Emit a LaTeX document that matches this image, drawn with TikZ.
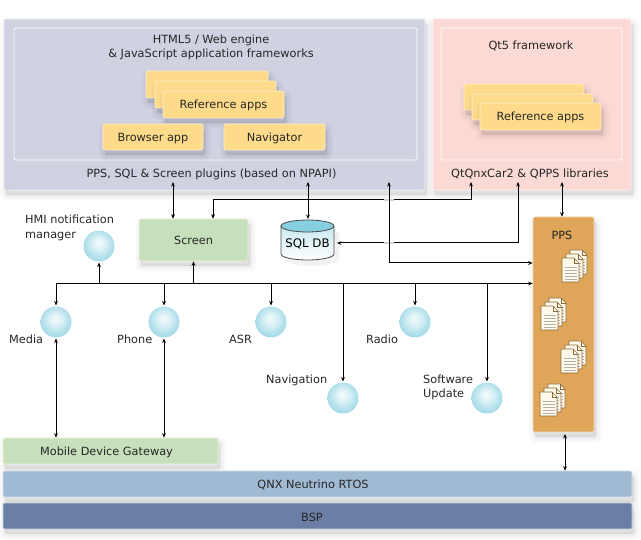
\documentclass[tikz,border=0pt]{standalone}
\usepackage{fontspec}
\setmainfont{DejaVu Sans}
\usetikzlibrary{arrows.meta,shadows,calc}

\definecolor{panelblue}{HTML}{D0D2E2}
\definecolor{panelpink}{HTML}{FBD9D4}
\definecolor{appyellow}{HTML}{FEDB8A}
\definecolor{boxgreen}{HTML}{C7E0BB}
\definecolor{rtosblue}{HTML}{A1BAD4}
\definecolor{bspblue}{HTML}{6B7FA6}
\definecolor{ppsbrown}{HTML}{DFA558}
\definecolor{dbtop}{HTML}{86CFE0}
\definecolor{pageline}{HTML}{8A6A3A}

\newcommand{\lblfont}{\fontsize{11.3}{14.5}\selectfont}

\pgfdeclareradialshading{bubble}{\pgfpoint{-1bp}{6bp}}{%
  color(0bp)=(white!92!dbtop); color(10bp)=(white!70!dbtop); color(22bp)=(white!35!dbtop); color(32bp)=(white!12!dbtop); color(50bp)=(white!12!dbtop)}

\tikzset{
  sz/.style 2 args={minimum width=#1,minimum height=#2,inner sep=0pt},
  softshadow/.style={
    general shadow={shadow xshift=2pt,shadow yshift=-5pt,fill=black,draw=black,line width=13pt,opacity=.012},
    general shadow={shadow xshift=2pt,shadow yshift=-5pt,fill=black,draw=black,line width=10pt,opacity=.014},
    general shadow={shadow xshift=2pt,shadow yshift=-5pt,fill=black,draw=black,line width=7pt,opacity=.016},
    general shadow={shadow xshift=2pt,shadow yshift=-5pt,fill=black,draw=black,line width=4pt,opacity=.018},
    general shadow={shadow xshift=2pt,shadow yshift=-5pt,fill=black,draw=black,line width=1pt,opacity=.02}},
  box/.style={rounded corners=2pt,draw=white!60!#1,line width=.6pt,fill=#1,softshadow},
  boxtext/.style={font=\lblfont,text=black!85,text height=8.5pt,text depth=0pt},
  inner/.style={rounded corners=2pt,draw=white,line width=.8pt},
  lbl/.style={font=\lblfont,text=black!85,inner sep=0pt,align=left},
  bubblenode/.style={circle,minimum size=31pt,inner sep=0pt,outer sep=1pt,shading=bubble,draw=none},
  link/.style={line width=1pt,-{Stealth[length=4.5pt,width=3.8pt]}},
  dlink/.style={line width=1pt,{Stealth[length=4.5pt,width=3.8pt]}-{Stealth[length=4.5pt,width=3.8pt]}},
  gapmark/.style={line width=1.1pt,draw=black!18},
  docpage/.style={fill=white!82!appyellow,draw=pageline,line width=.7pt},
  docs/.pic={
    \foreach \dx/\dy in {8/-8,4/-4,0/0}{
      \begin{scope}[shift={(\dx,\dy)}]
        \draw[docpage] (0,0) -- (12,0) -- (17,5) -- (17,24) -- (0,24) -- cycle;
        \draw[pageline,line width=.5pt] (12,0) -- (12,5) -- (17,5);
        \foreach \ly in {9,12,15,18,21}
          \draw[black!30,line width=.7pt] (2.5,\ly) -- (14.5,\ly);
      \end{scope}
    }
  }
}

\begin{document}
\begin{tikzpicture}[x=1pt,y=-1pt]
  \useasboundingbox (0,0) rectangle (641,540);

  % Upper panels
  \node[box=panelblue,sz={421pt}{171pt}] (webPanel) at (214.5,104.5) {};
  \node[inner,sz={403pt}{132pt}] (webInner) at (215.5,94) {};
  \node[box=panelpink,sz={198pt}{171pt}] (qtPanel) at (532,104.5) {};
  \node[inner,sz={181pt}{132pt}] (qtInner) at (531.5,94) {};

  \node[lbl,align=center] (webTitle) at (211,47.5) {HTML5 / Web engine\\\& JavaScript application frameworks};
  \node[lbl] (webPlugins) at (211.5,174) {PPS, SQL \& Screen plugins (based on NPAPI)};
  \node[lbl] (qtTitle) at (531,45.5) {Qt5 framework};
  \node[lbl] (qtLibs) at (530,174) {QtQnxCar2 \& QPPS libraries};

  % Application boxes
  \node[box=appyellow,sz={122pt}{27pt}] (webBack) at (207,84.5) {};
  \node[box=appyellow,sz={121pt}{27pt}] (webMid) at (215.5,94.5) {};
  \node[box=appyellow,sz={121pt}{27pt},boxtext] (webApps) at (223.5,104.5) {Reference apps};
  \node[box=appyellow,sz={100pt}{26pt},boxtext] (browser) at (153,137) {Browser app};
  \node[box=appyellow,sz={101pt}{26pt},boxtext] (navigator) at (274.5,137) {Navigator};
  \node[box=appyellow,sz={120pt}{26pt}] (qtBack) at (524,97) {};
  \node[box=appyellow,sz={121pt}{26pt}] (qtMid) at (532.5,107) {};
  \node[box=appyellow,sz={121pt}{27pt},boxtext] (qtApps) at (540.5,116.5) {Reference apps};

  % Screen and database
  \node[box=boxgreen,sz={109pt}{42pt},boxtext] (screen) at (193.5,240) {Screen};
  \fill[black,opacity=.05] (285,232) -- (285,258) arc[start angle=180,end angle=0,x radius=27,y radius=8] -- (339,232) -- cycle;
  \draw[black!70,line width=.8pt,top color=dbtop!45,bottom color=white] (281,226) -- (281,254) arc[start angle=180,end angle=0,x radius=26.5,y radius=6] -- (334,226) -- cycle;
  \draw[black!70,line width=.8pt,fill=dbtop] (307.5,226) ellipse[x radius=26.5,y radius=6];
  \node[lbl,font=\fontsize{11.8}{14}\selectfont,text=black] (sqlDb) at (307.5,244) {SQL DB};
  \coordinate (sqlTop) at (308,219);
  \coordinate (sqlRight) at (337,243);

  % PPS column
  \node[box=ppsbrown,sz={61pt}{215pt}] (pps) at (563.5,324.5) {};
  \node[lbl] (ppsTitle) at (562,235) {PPS};
  \foreach \px/\py in {562/258,541/306,561/349,540/392}
    \pic at (\px,\py) {docs};

  % Bottom layers
  \node[box=boxgreen,sz={215pt}{26pt}] (gateway) at (110.5,451) {};
  \node[lbl,boxtext] (gatewayLbl) at (106.5,451) {Mobile Device Gateway};
  \node[box=rtosblue,sz={629pt}{26pt}] (rtos) at (317.5,484) {};
  \node[lbl,boxtext] (rtosLbl) at (313,484) {QNX Neutrino RTOS};
  \node[box=bspblue,sz={629pt}{26pt}] (bsp) at (317.5,516) {};
  \node[lbl,boxtext] (bspLbl) at (312,517) {BSP};

  % Services
  \foreach \name/\px/\py in {cHmi/99/246,cMedia/56/322,cPhone/164/322,cAsr/271/322,cRadio/415/322,cNav/343/398,cSoft/487/398}
    \node[bubblenode] (\name) at (\px,\py) {};

  \node[lbl,anchor=west] (hmiLbl) at (25,228) {HMI notification\\manager};
  \node[lbl,anchor=west] (mediaLbl) at (9,339) {Media};
  \node[lbl,anchor=west] (phoneLbl) at (117,339) {Phone};
  \node[lbl,anchor=west] (asrLbl) at (229,339) {ASR};
  \node[lbl,anchor=west] (radioLbl) at (366,339) {Radio};
  \node[lbl,anchor=west] (navLbl) at (266,380) {Navigation};
  \node[lbl,anchor=west] (softLbl) at (423,387.5) {Software\\Update};

  % Free ends inside the panels
  \coordinate (plugScreen) at (173,182);
  \coordinate (plugSql) at (308,182);
  \coordinate (plugPps) at (389,182);
  \coordinate (libScreen) at (471,182);
  \coordinate (libSql) at (518,182);
  \coordinate (libPps) at (562,182);
  \coordinate (busStart) at (56,283.5);
  \coordinate (ppsDown) at (565,434);
  \coordinate (bendTop) at (213,200);
  \coordinate (bendPps) at (389,263);

  % Bus
  \draw[link] (busStart) -- (busStart -| pps.west);
  \foreach \name in {cMedia,cPhone,cAsr,cRadio,cNav,cSoft}
    \draw[link] (\name |- busStart) -- (\name);
  \draw[link] (cHmi |- busStart) -- (cHmi);
  \draw[link] (screen.south |- busStart) -- (screen.south);

  % Links to the gateway
  \draw[dlink] (cMedia) -- (cMedia |- gateway.north);
  \draw[dlink] (cPhone) -- (cPhone |- gateway.north);

  % Links around the panels
  \draw[dlink] (plugScreen) -- (plugScreen |- screen.north);
  \draw[dlink] (plugSql) -- (sqlTop);
  \draw[dlink] (libPps) -- (libPps |- pps.north);
  \draw[dlink] (ppsDown) -- (ppsDown |- rtos.north);
  \draw[dlink] (bendTop |- screen.north) -- (bendTop) -| (libScreen);
  \draw[dlink] (libSql) |- (sqlRight);
  \foreach \crossing in {bendTop,sqlRight}
    \draw[gapmark] ($(plugPps |- \crossing)+(-5,0)$) -- ($(plugPps |- \crossing)+(5,0)$);
  \draw[dlink] (plugPps) |- (bendPps -| pps.west);
\end{tikzpicture}
\end{document}
